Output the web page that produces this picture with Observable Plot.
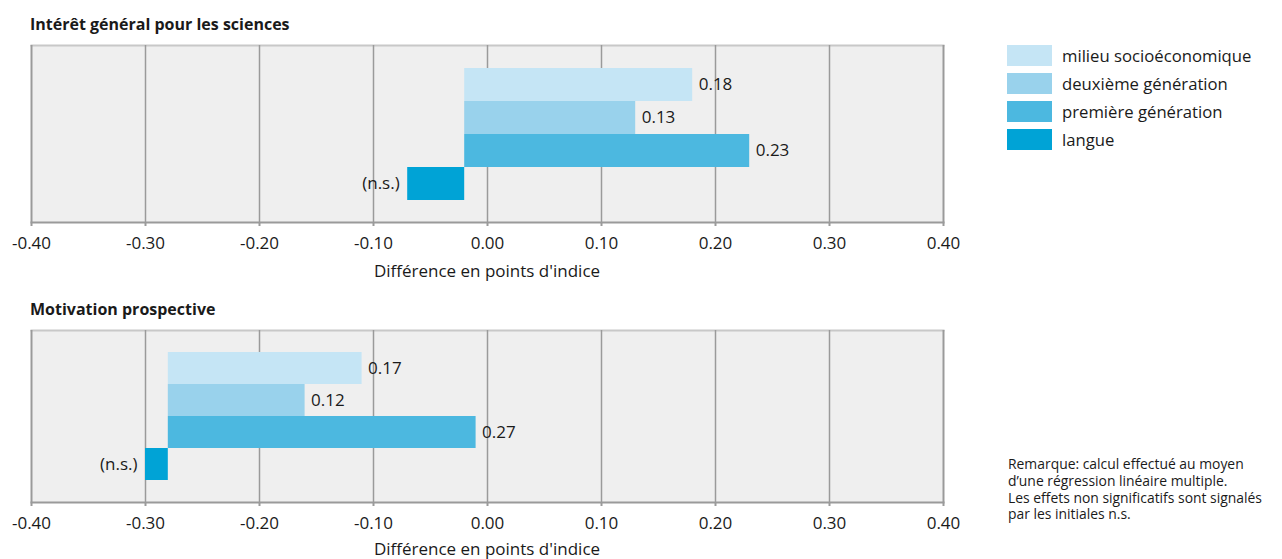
<!DOCTYPE html>
<html>
<head>
<meta charset="utf-8">
<script src="https://cdn.jsdelivr.net/npm/d3@7"></script>
<script src="https://cdn.jsdelivr.net/npm/@observablehq/plot@0.6"></script>
<style>
  html, body { margin: 0; padding: 0; background: #fff; }
  body { width: 1282px; height: 559px; position: relative; font-family: "Open Sans", sans-serif; color: #1a1a1a; overflow: hidden; }
  .title { position: absolute; left: 30px; font-weight: bold; font-size: 16px; line-height: 20px; }
  .plot { position: absolute; left: 0; }
  .xlabel { position: absolute; width: 300px; margin-left: -150px; text-align: center; font-size: 17px; line-height: 22px; }
  .legend { position: absolute; left: 1007px; top: 45px; }
  .legend .row { display: flex; align-items: center; height: 20.7px; margin-bottom: 7.3px; font-size: 16.7px; }
  .legend .sw { width: 45px; height: 20.7px; margin-right: 10px; }
  .note { position: absolute; left: 1008px; top: 456px; font-size: 13.9px; line-height: 16.8px; }
</style>
</head>
<body>
<script>
// ---- data ----
const categories = ["milieu socioéconomique", "deuxième génération", "première génération", "langue"];
const colors = ["#c5e5f5", "#99d2ec", "#4cb8e0", "#00a3d6"];
const ticks = [-0.4, -0.3, -0.2, -0.1, 0, 0.1, 0.2, 0.3, 0.4];

const interetTitle = "Intérêt général pour les sciences";
const interetBase = -0.02;
const interetEnd = [0.18, 0.13, 0.23, -0.07];
const interetLabels = ["0.18", "0.13", "0.23", "(n.s.)"];

const motivationTitle = "Motivation prospective";
const motivationBase = -0.28;
const motivationEnd = [-0.11, -0.16, -0.01, -0.30];
const motivationLabels = ["0.17", "0.12", "0.27", "(n.s.)"];

const axisLabel = "Différence en points d'indice";
const noteLines = [
  "Remarque: calcul effectué au moyen",
  "d’une régression linéaire multiple.",
  "Les effets non significatifs sont signalés",
  "par les initiales n.s."
];

// ---- drawing ----
function panel(base, ends, labels, frameH) {
  const rows = categories.map((c, i) => ({cat: c, x1: base, x2: ends[i], label: labels[i], pos: ends[i] >= base}));
  return Plot.plot({
    width: 980,
    height: 2 + frameH + 58,
    marginTop: 2,
    marginBottom: 58,
    marginLeft: 31,
    marginRight: 37,
    style: {fontFamily: "Open Sans, sans-serif", color: "#1a1a1a", background: "transparent"},
    x: {domain: [-0.4, 0.4]},
    y: {domain: categories, paddingInner: 0, paddingOuter: 0.667, axis: null},
    color: {domain: categories, range: colors},
    marks: [
      Plot.frame({fill: "#efefef", stroke: null}),
      Plot.frame({anchor: "top", stroke: "#c8c8c8", strokeWidth: 2}),
      Plot.ruleX(ticks.slice(1, -1), {stroke: "#9a9a9a", strokeWidth: 1.5}),
      Plot.ruleX([ticks[0], ticks[ticks.length - 1]], {stroke: "#9a9a9a", strokeWidth: 2}),
      Plot.barX(rows, {x1: "x1", x2: "x2", y: "cat", fill: "cat", insetTop: 0, insetBottom: 0}),
      Plot.text(rows.filter(d => d.pos), {x: "x2", y: "cat", text: "label", textAnchor: "start", dx: 6, fontSize: 17, fill: "#1a1a1a"}),
      Plot.text(rows.filter(d => !d.pos), {x: "x2", y: "cat", text: "label", textAnchor: "end", dx: -8, fontSize: 17, fill: "#1a1a1a"}),
      Plot.frame({anchor: "bottom", stroke: "#9a9a9a", strokeWidth: 2}),
      Plot.axisX({ticks: ticks, tickFormat: d => d.toFixed(2), tickSize: 4, tickPadding: 10, fontSize: 17, stroke: "#9a9a9a", strokeWidth: 2, label: null, fill: "#1a1a1a"})
    ]
  });
}

function addDiv(cls, text, top, left) {
  const d = document.createElement("div");
  d.className = cls;
  d.textContent = text;
  d.style.top = top + "px";
  if (left !== undefined) d.style.left = left + "px";
  document.body.appendChild(d);
  return d;
}

addDiv("title", interetTitle, 14);
const p1 = panel(interetBase, interetEnd, interetLabels, 177);
p1.classList.add("plot"); p1.style.top = "43px";
document.body.appendChild(p1);
addDiv("xlabel", axisLabel, 260, 487);

addDiv("title", motivationTitle, 299);
const p2 = panel(motivationBase, motivationEnd, motivationLabels, 172);
p2.classList.add("plot"); p2.style.top = "328px";
document.body.appendChild(p2);
addDiv("xlabel", axisLabel, 538, 487);

const legend = document.createElement("div");
legend.className = "legend";
categories.forEach((c, i) => {
  const r = document.createElement("div");
  r.className = "row";
  const sw = document.createElement("div");
  sw.className = "sw";
  sw.style.background = colors[i];
  const t = document.createElement("span");
  t.textContent = c;
  r.appendChild(sw); r.appendChild(t);
  legend.appendChild(r);
});
document.body.appendChild(legend);

const note = document.createElement("div");
note.className = "note";
noteLines.forEach(l => { const d = document.createElement("div"); d.textContent = l; note.appendChild(d); });
document.body.appendChild(note);
</script>
</body>
</html>
